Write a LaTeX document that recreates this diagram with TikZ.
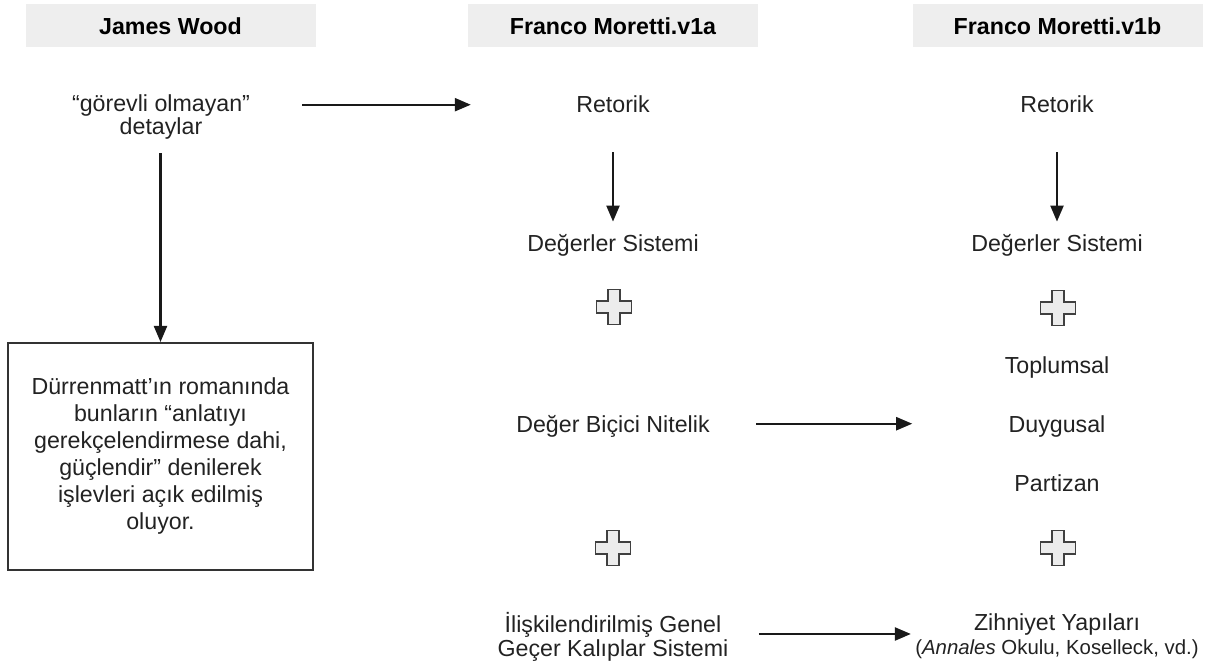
\documentclass[tikz,border=0pt]{standalone}
\usepackage{fontspec}
\setmainfont{Liberation Sans}
\usetikzlibrary{arrows.meta,calc}
\definecolor{headgray}{RGB}{238,238,238}
\definecolor{inkgray}{RGB}{34,34,34}
\definecolor{crossgray}{RGB}{236,236,236}

\begin{document}
\begin{tikzpicture}[
  x=0.5pt, y=-0.5pt,
  header/.style={
    fill=headgray,
    minimum width=145pt,
    minimum height=21.5pt,
    inner sep=0pt,
    font=\bfseries\fontsize{11.6}{13}\selectfont,
    text=black
  },
  lbl/.style={
    inner sep=0pt,
    text height=8.5pt,
    text depth=2.5pt,
    anchor=base,
    font=\fontsize{11.6}{11.6}\selectfont,
    text=inkgray
  },
  multi/.style={
    inner sep=0pt,
    align=center,
    font=\fontsize{11.6}{11.8}\selectfont,
    text=inkgray
  },
  textbox/.style={
    draw=black!80,
    line width=1pt,
    minimum width=152.5pt,
    minimum height=113.5pt,
    inner sep=0pt,
    align=center,
    font=\fontsize{11.6}{13.5}\selectfont,
    text=inkgray
  },
  line/.style={-{Triangle[length=8pt,width=6.5pt]}, line width=1.1pt, draw=black!90},
  crosssign/.pic={
    \draw[draw=black!75, fill=crossgray, line width=0.8pt]
      (-6,-17.5) -- (6,-17.5) -- (6,-6) -- (17.5,-6) -- (17.5,6) -- (6,6)
      -- (6,17.5) -- (-6,17.5) -- (-6,6) -- (-17.5,6) -- (-17.5,-6) -- (-6,-6) -- cycle;
  }
]
\useasboundingbox (0,0) rectangle (1222,667);

% Column headers
\node[header] (hWood) at (170.5,26) {James Wood};
\node[header] (hV1a) at (613,26) {Franco Moretti.v1a};
\node[header] (hV1b) at (1057.5,26) {Franco Moretti.v1b};

% James Wood column
\node[multi] (detay) at (161,117) {“görevli olmayan”\\detaylar};
\node[textbox] (durren) at (160.5,456.5) {Dürrenmatt’ın romanında\\bunların “anlatıyı\\gerekçelendirmese dahi,\\güçlendir” denilerek\\işlevleri açık edilmiş\\oluyor.};
\draw[line] ($(detay.south -| durren.north)+(0,13)$) -- (durren.north);

% Moretti v1a column
\node[lbl] (retA) at (613,113) {Retorik};
\node[lbl] (degA) at (613,252) {Değerler Sistemi};
\node[lbl] (bicA) at (613,433) {Değer Biçici Nitelik};
\node[multi] (iliA) at (613,637) {İlişkilendirilmiş Genel\\Geçer Kalıplar Sistemi};
\draw[line] ($(retA.south)+(0,34)$) -- ($(degA.north)+(0,-13)$);
\pic at (614,307) {crosssign};
\pic at (613,548) {crosssign};

% Moretti v1b column
\node[lbl] (retB) at (1057,113) {Retorik};
\node[lbl] (degB) at (1057,252) {Değerler Sistemi};
\node[lbl] (topB) at (1057,374) {Toplumsal};
\node[lbl] (duyB) at (1057,433) {Duygusal};
\node[lbl] (parB) at (1057,492) {Partizan};
\node[multi] (zihB) at (1057,636) {Zihniyet Yapıları\\{\fontsize{10.2}{11.5}\selectfont(\textit{Annales} Okulu, Koselleck, vd.)}};
\draw[line] ($(retB.south)+(0,34)$) -- ($(degB.north)+(0,-13)$);
\pic at (1058,308) {crosssign};
\pic at (1058,548) {crosssign};

% Links between columns
\draw[line] ($(detay.east |- retA.mid)+(52,-3)$) -- ($(retA.mid west)+(-105,-3)$);
\draw[line] ($(bicA.mid east)+(46,-4)$) -- ($(duyB.mid west)+(-96,-4)$);
\draw[line] ($(iliA.east)+(30,-3)$) -- ($(iliA.east -| zihB.west)+(-4,-3)$);

\end{tikzpicture}
\end{document}
